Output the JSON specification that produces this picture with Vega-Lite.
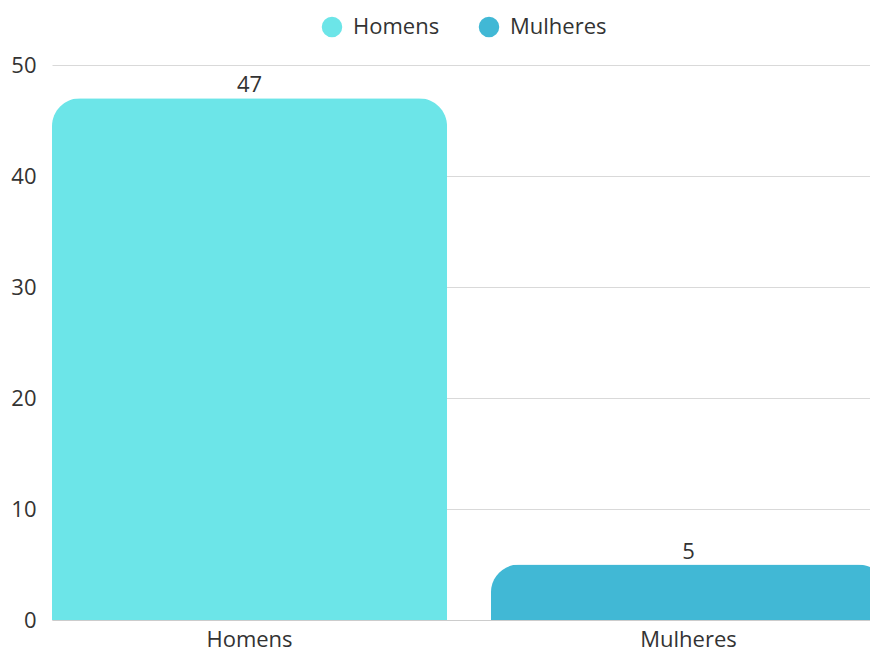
{
  "$schema": "https://vega.github.io/schema/vega-lite/v6.json",
  "width": 818,
  "height": 555,
  "autosize": "none",
  "padding": {"left": 52, "top": 65, "right": 0, "bottom": 32},
  "background": "white",
  "config": {
    "font": "Open Sans",
    "view": {"stroke": null},
    "axis": {"labelFont": "Open Sans", "labelFontSize": 22, "labelColor": "#333333"}
  },
  "data": {"values": [
    {"sexo": "Homens", "n": 47},
    {"sexo": "Mulheres", "n": 5}
  ]},
  "encoding": {
    "x": {
      "field": "sexo", "type": "nominal", "sort": null,
      "scale": {"paddingInner": 0.1, "paddingOuter": 0, "range": [0, 834]},
      "axis": {"title": null, "labelAngle": 0, "ticks": false, "domain": true, "domainColor": "#cccccc", "labelPadding": 9, "grid": false}
    },
    "y": {
      "field": "n", "type": "quantitative",
      "scale": {"domain": [0, 50]},
      "axis": {"title": null, "values": [0, 10, 20, 30, 40, 50], "ticks": false, "domain": false, "gridColor": "#d9d9d9", "labelPadding": 16}
    }
  },
  "layer": [
    {
      "mark": {"type": "bar", "cornerRadiusTopLeft": 28, "cornerRadiusTopRight": 28},
      "encoding": {
        "color": {
          "field": "sexo", "type": "nominal", "sort": null,
          "scale": {"domain": ["Homens", "Mulheres"], "range": ["#6ce5e8", "#41b8d5"]},
          "legend": {
            "title": null, "orient": "none", "direction": "horizontal",
            "legendX": 269, "legendY": -49,
            "symbolType": "circle", "symbolSize": 420, "symbolOpacity": 1,
            "labelFontSize": 22, "labelColor": "#333333", "labelFont": "Open Sans",
            "columnPadding": 38, "labelOffset": 10
          }
        }
      }
    },
    {
      "mark": {"type": "text", "baseline": "bottom", "dy": -1, "fontSize": 22, "color": "#333333", "font": "Open Sans"},
      "encoding": {"text": {"field": "n", "type": "quantitative"}}
    }
  ]
}
